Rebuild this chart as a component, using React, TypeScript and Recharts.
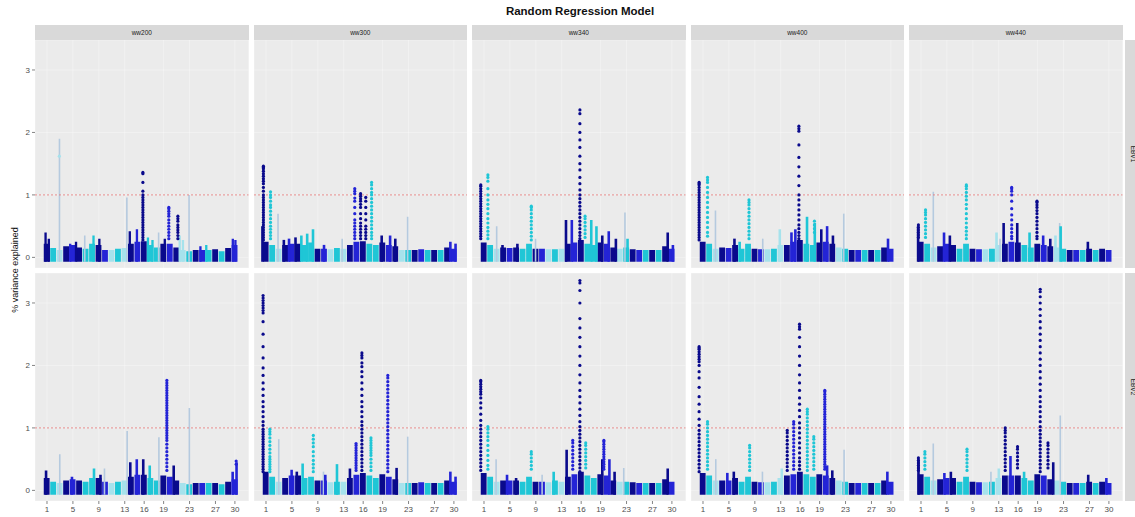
import React from 'react';
import { BarChart, Bar, Cell, ScatterChart, Scatter, XAxis, YAxis, ReferenceLine, CartesianGrid } from 'recharts';

// facet labels
const colLabels = ['ww200', 'ww300', 'ww340', 'ww400', 'ww440'];
const rowLabels = ['EBV1', 'EBV2'];
const chromTicks = [1, 5, 9, 13, 16, 19, 23, 27, 30];
const yTicks = [0, 1, 2, 3];

// base mass of points per chromosome (1..30)
const base11 = [0.22, 0.15, 0.12, 0.18, 0.2, 0.16, 0.14, 0.22, 0.2, 0.12, 0.12, 0.14, 0.15, 0.22, 0.25, 0.26, 0.2, 0.16, 0.22, 0.22, 0.16, 0.12, 0.1, 0.12, 0.12, 0.12, 0.13, 0.1, 0.15, 0.2];
const base12 = [0.25, 0.2, 0.14, 0.2, 0.22, 0.22, 0.2, 0.24, 0.14, 0.14, 0.13, 0.15, 0.14, 0.2, 0.25, 0.26, 0.22, 0.2, 0.24, 0.2, 0.18, 0.12, 0.12, 0.12, 0.13, 0.12, 0.12, 0.12, 0.16, 0.14];
const base13 = [0.24, 0.2, 0.14, 0.16, 0.15, 0.16, 0.14, 0.22, 0.14, 0.14, 0.13, 0.13, 0.14, 0.22, 0.24, 0.28, 0.22, 0.2, 0.24, 0.22, 0.16, 0.14, 0.16, 0.13, 0.12, 0.12, 0.12, 0.12, 0.18, 0.14];
const base14 = [0.25, 0.22, 0.14, 0.16, 0.15, 0.2, 0.14, 0.22, 0.14, 0.13, 0.13, 0.14, 0.2, 0.2, 0.25, 0.28, 0.22, 0.2, 0.24, 0.25, 0.22, 0.16, 0.14, 0.12, 0.12, 0.12, 0.12, 0.12, 0.16, 0.14];
const base15 = [0.25, 0.22, 0.16, 0.18, 0.22, 0.2, 0.14, 0.22, 0.14, 0.13, 0.13, 0.14, 0.2, 0.22, 0.25, 0.24, 0.2, 0.16, 0.22, 0.2, 0.18, 0.16, 0.14, 0.12, 0.12, 0.12, 0.14, 0.12, 0.14, 0.12];
const base21 = [0.2, 0.14, 0.12, 0.16, 0.18, 0.16, 0.14, 0.2, 0.2, 0.14, 0.12, 0.14, 0.16, 0.22, 0.25, 0.25, 0.2, 0.16, 0.24, 0.22, 0.16, 0.12, 0.1, 0.12, 0.12, 0.12, 0.12, 0.1, 0.14, 0.18];
const base22 = [0.3, 0.22, 0.14, 0.2, 0.24, 0.24, 0.2, 0.22, 0.16, 0.16, 0.13, 0.14, 0.14, 0.2, 0.25, 0.28, 0.24, 0.2, 0.26, 0.22, 0.18, 0.12, 0.12, 0.12, 0.13, 0.12, 0.12, 0.12, 0.16, 0.14];
const base23 = [0.28, 0.22, 0.14, 0.16, 0.16, 0.16, 0.14, 0.22, 0.14, 0.14, 0.13, 0.16, 0.14, 0.22, 0.26, 0.3, 0.24, 0.2, 0.26, 0.24, 0.16, 0.14, 0.14, 0.13, 0.12, 0.12, 0.12, 0.12, 0.18, 0.14];
const base24 = [0.28, 0.24, 0.16, 0.16, 0.16, 0.2, 0.14, 0.22, 0.14, 0.13, 0.13, 0.14, 0.2, 0.24, 0.26, 0.3, 0.26, 0.22, 0.26, 0.24, 0.2, 0.16, 0.14, 0.12, 0.12, 0.12, 0.12, 0.12, 0.16, 0.14];
const base25 = [0.26, 0.22, 0.16, 0.18, 0.2, 0.2, 0.14, 0.22, 0.14, 0.13, 0.13, 0.14, 0.2, 0.24, 0.24, 0.24, 0.2, 0.16, 0.26, 0.24, 0.18, 0.16, 0.14, 0.12, 0.12, 0.12, 0.14, 0.12, 0.14, 0.12];

// narrow dense peaks [position, top]
const bumps11 = [[0.8, 0.4], [1.3, 0.3], [4.6, 0.22], [5.5, 0.25], [8.2, 0.35], [9.1, 0.3], [13.8, 0.42], [14.9, 0.45], [16.6, 0.32], [17.3, 0.28], [19.2, 0.3], [21.5, 0.35], [22.0, 0.28], [24.7, 0.18], [25.6, 0.2], [29.7, 0.3], [30.1, 0.28]];
const bumps12 = [[0.5, 0.5], [3.8, 0.28], [4.6, 0.3], [5.6, 0.32], [6.5, 0.35], [7.4, 0.38], [8.3, 0.45], [10.0, 0.2], [18.9, 0.35], [20.2, 0.35], [21.0, 0.3], [29.5, 0.25], [30.3, 0.22]];
const bumps13 = [[3.9, 0.2], [6.2, 0.22], [13.7, 0.6], [14.6, 0.6], [17.6, 0.6], [18.4, 0.5], [19.3, 0.35], [20.3, 0.42], [21.4, 0.3], [23.2, 0.3], [29.4, 0.4], [30.2, 0.2]];
const bumps14 = [[5.8, 0.3], [6.6, 0.25], [12.8, 0.45], [14.6, 0.4], [15.2, 0.45], [17.0, 0.65], [18.2, 0.55], [19.2, 0.45], [20.1, 0.5], [21.0, 0.35], [29.5, 0.3]];
const bumps15 = [[0.6, 0.5], [4.6, 0.4], [5.5, 0.35], [12.7, 0.4], [13.8, 0.55], [15.9, 0.55], [17.8, 0.4], [19.9, 0.35], [21.0, 0.3], [21.8, 0.35], [22.6, 0.5], [26.8, 0.25]];
const bumps21 = [[0.8, 0.32], [4.8, 0.22], [8.2, 0.35], [9.2, 0.25], [13.8, 0.45], [14.8, 0.5], [15.8, 0.5], [16.8, 0.4], [20.5, 0.4], [29.6, 0.3], [30.2, 0.45]];
const bumps22 = [[5.0, 0.33], [5.8, 0.3], [6.7, 0.43], [10.2, 0.25], [12.0, 0.42], [14.0, 0.35], [21.2, 0.36], [29.5, 0.3], [30.3, 0.22]];
const bumps23 = [[4.6, 0.25], [6.0, 0.2], [11.8, 0.3], [13.8, 0.65], [19.3, 0.5], [20.4, 0.5], [21.2, 0.3], [29.4, 0.35]];
const bumps24 = [[4.8, 0.28], [5.8, 0.3], [13.2, 0.35], [20.2, 0.4], [21.0, 0.32], [29.5, 0.3]];
const bumps25 = [[0.6, 0.5], [4.6, 0.28], [5.6, 0.3], [13.0, 0.35], [14.8, 0.55], [16.9, 0.3], [21.4, 0.45], [26.8, 0.25], [29.6, 0.2]];

// pale tall strokes [position, top]
const faint11 = [[2.9, 1.9], [6.8, 0.35], [13.3, 0.96], [18.2, 0.4], [22.9, 1.0]];
const faint12 = [[2.9, 0.7], [12.8, 0.3], [22.9, 0.65]];
const faint13 = [[2.9, 0.5], [8.9, 0.3], [22.7, 0.72]];
const faint14 = [[2.9, 0.75], [10.2, 0.3], [22.7, 0.7]];
const faint15 = [[2.9, 1.05], [13.2, 0.3], [22.4, 0.55]];
const faint21 = [[2.9, 0.58], [9.8, 0.35], [13.3, 0.95], [18.2, 0.85], [22.9, 1.32]];
const faint22 = [[2.9, 0.82], [9.8, 0.3], [22.8, 0.86]];
const faint23 = [[2.9, 0.5], [10.0, 0.25], [22.6, 0.36]];
const faint24 = [[2.9, 0.5], [10.1, 0.3], [22.7, 0.65]];
const faint25 = [[2.9, 0.75], [11.8, 0.3], [22.5, 1.2]];

// columns of single SNP points [position, values]
const cols11 = [
  [15.8, [1.36, 1.34, 1.2, 1.06, 1.0, 0.96, 0.92, 0.88, 0.84, 0.8, 0.76, 0.72, 0.68, 0.64, 0.6, 0.56, 0.52, 0.48, 0.44, 0.4, 0.36, 0.32, 0.28]],
  [19.8, [0.8, 0.78, 0.74, 0.7, 0.66, 0.6, 0.55, 0.5, 0.45, 0.4, 0.35, 0.3]],
  [21.2, [0.66, 0.62, 0.58, 0.52, 0.48, 0.44, 0.4, 0.35, 0.3]],
  [2.9, [1.62]],
];
const cols12 = [
  [0.6, [1.46, 1.44, 1.42, 1.38, 1.34, 1.3, 1.26, 1.22, 1.18, 1.12, 1.06, 1.0, 0.96, 0.92, 0.88, 0.84, 0.8, 0.76, 0.72, 0.68, 0.64, 0.6, 0.56, 0.52, 0.48, 0.44, 0.4, 0.36, 0.32, 0.28]],
  [1.7, [1.05, 1.0, 0.96, 0.9, 0.84, 0.8, 0.74, 0.68, 0.62, 0.56, 0.5, 0.45, 0.4, 0.35, 0.3]],
  [14.7, [1.1, 1.06, 1.02, 0.95, 0.9, 0.8, 0.7, 0.6, 0.55, 0.5, 0.45, 0.4, 0.35, 0.3]],
  [15.6, [1.02, 0.98, 0.94, 0.9, 0.85, 0.8, 0.7, 0.62, 0.55, 0.5, 0.45, 0.4, 0.35, 0.3]],
  [16.4, [0.96, 0.9, 0.8, 0.7, 0.6, 0.5, 0.45, 0.4, 0.35, 0.3]],
  [17.3, [1.2, 1.16, 1.1, 1.04, 1.0, 0.94, 0.88, 0.82, 0.76, 0.7, 0.64, 0.58, 0.52, 0.46, 0.4, 0.35, 0.3]],
];
const cols13 = [
  [0.5, [1.16, 1.14, 1.1, 1.06, 1.02, 0.98, 0.94, 0.9, 0.86, 0.82, 0.78, 0.74, 0.7, 0.66, 0.62, 0.58, 0.54, 0.5, 0.46, 0.42, 0.38, 0.34, 0.3]],
  [1.6, [1.32, 1.28, 1.22, 1.1, 1.0, 0.92, 0.85, 0.78, 0.7, 0.62, 0.55, 0.48, 0.42, 0.36, 0.3]],
  [8.3, [0.82, 0.8, 0.76, 0.7, 0.64, 0.58, 0.52, 0.46, 0.4, 0.34, 0.28]],
  [15.8, [2.36, 2.3, 2.14, 2.0, 1.88, 1.76, 1.62, 1.5, 1.4, 1.28, 1.18, 1.08, 1.0, 0.94, 0.88, 0.82, 0.76, 0.7, 0.64, 0.58, 0.52, 0.46, 0.4, 0.35, 0.3]],
  [16.6, [0.66, 0.62, 0.56, 0.5, 0.44, 0.38, 0.32]],
];
const cols14 = [
  [0.4, [1.2, 1.18, 1.16, 1.12, 1.08, 1.04, 1.0, 0.96, 0.92, 0.88, 0.84, 0.8, 0.76, 0.72, 0.68, 0.64, 0.6, 0.56, 0.52, 0.48, 0.44, 0.4, 0.36, 0.32, 0.28]],
  [1.7, [1.28, 1.24, 1.2, 1.12, 1.04, 0.96, 0.88, 0.8, 0.72, 0.64, 0.56, 0.48, 0.4, 0.34]],
  [8.1, [0.92, 0.88, 0.84, 0.78, 0.72, 0.66, 0.6, 0.54, 0.48, 0.42, 0.36, 0.3]],
  [15.8, [2.1, 2.06, 2.02, 1.8, 1.6, 1.45, 1.3, 1.15, 1.0, 0.92, 0.84, 0.76, 0.68, 0.6, 0.52, 0.46, 0.4, 0.35, 0.3]],
  [18.2, [0.58, 0.52, 0.46, 0.4]],
];
const cols15 = [
  [0.6, [0.52, 0.48, 0.44, 0.4, 0.36, 0.32]],
  [1.7, [0.76, 0.72, 0.68, 0.62, 0.56, 0.5, 0.44, 0.38, 0.32]],
  [8.0, [1.16, 1.14, 1.1, 1.04, 0.98, 0.92, 0.85, 0.78, 0.7, 0.62, 0.55, 0.48, 0.42, 0.36, 0.3]],
  [15.0, [1.12, 1.1, 1.06, 1.0, 0.9, 0.78, 0.68, 0.6, 0.52, 0.46, 0.4, 0.34, 0.3]],
  [18.9, [0.9, 0.88, 0.84, 0.8, 0.75, 0.7, 0.64, 0.58, 0.52, 0.46, 0.4, 0.34, 0.3]],
];
const cols21 = [
  [19.5, [1.76, 1.72, 1.68, 1.64, 1.6, 1.56, 1.52, 1.48, 1.44, 1.4, 1.36, 1.32, 1.28, 1.24, 1.2, 1.16, 1.12, 1.08, 1.04, 1.0, 0.96, 0.92, 0.88, 0.84, 0.8, 0.74, 0.68, 0.62, 0.56, 0.5, 0.44, 0.38, 0.32]],
  [30.2, [0.47, 0.42]],
];
const cols22 = [
  [0.55, [3.12, 3.08, 3.04, 3.0, 2.96, 2.92, 2.88, 2.84, 2.7, 2.5, 2.3, 2.12, 1.96, 1.84, 1.72, 1.62, 1.52, 1.42, 1.34, 1.26, 1.18, 1.1, 1.04, 0.98, 0.94, 0.9, 0.86, 0.82, 0.78, 0.74, 0.7, 0.66, 0.62, 0.58, 0.54, 0.5, 0.46, 0.42, 0.38, 0.34, 0.3]],
  [1.6, [0.98, 0.94, 0.9, 0.84, 0.78, 0.72, 0.66, 0.6, 0.54, 0.5, 0.46, 0.42, 0.38, 0.34, 0.3]],
  [8.3, [0.88, 0.82, 0.76, 0.7, 0.62, 0.55, 0.48, 0.42, 0.36, 0.3]],
  [14.9, [0.75, 0.72, 0.68, 0.64, 0.6, 0.56, 0.52, 0.48, 0.44, 0.4, 0.36, 0.32]],
  [15.8, [2.2, 2.16, 2.12, 2.04, 1.98, 1.9, 1.82, 1.72, 1.62, 1.52, 1.42, 1.34, 1.26, 1.18, 1.1, 1.04, 0.98, 0.92, 0.86, 0.8, 0.74, 0.68, 0.62, 0.56, 0.5, 0.44, 0.38, 0.32]],
  [17.2, [0.84, 0.8, 0.76, 0.72, 0.68, 0.64, 0.6, 0.56, 0.5, 0.44, 0.38, 0.32]],
  [19.8, [1.84, 1.8, 1.74, 1.68, 1.62, 1.56, 1.5, 1.44, 1.38, 1.32, 1.26, 1.2, 1.14, 1.08, 1.02, 0.96, 0.9, 0.84, 0.78, 0.72, 0.66, 0.6, 0.54, 0.48, 0.42, 0.36, 0.3]],
];
const cols23 = [
  [0.5, [1.76, 1.74, 1.7, 1.66, 1.62, 1.58, 1.54, 1.48, 1.4, 1.32, 1.22, 1.12, 1.04, 0.98, 0.92, 0.86, 0.8, 0.74, 0.68, 0.62, 0.56, 0.5, 0.44, 0.38, 0.32]],
  [1.6, [1.02, 0.98, 0.92, 0.86, 0.8, 0.72, 0.64, 0.56, 0.48, 0.4, 0.34]],
  [8.3, [0.62, 0.58, 0.52, 0.46, 0.4, 0.34]],
  [14.7, [0.8, 0.76, 0.7, 0.64, 0.58, 0.52, 0.46, 0.4, 0.34]],
  [15.8, [3.36, 3.32, 3.2, 3.0, 2.75, 2.6, 2.45, 2.3, 2.15, 2.0, 1.85, 1.72, 1.6, 1.5, 1.4, 1.3, 1.2, 1.1, 1.02, 0.96, 0.9, 0.84, 0.78, 0.72, 0.66, 0.6, 0.54, 0.48, 0.42, 0.36, 0.3]],
  [16.7, [0.76, 0.72, 0.66, 0.6, 0.54, 0.48, 0.42, 0.36]],
  [19.5, [0.8, 0.78, 0.74, 0.7, 0.66, 0.62, 0.58, 0.54, 0.5, 0.46, 0.42, 0.38, 0.34]],
];
const cols24 = [
  [0.4, [2.3, 2.28, 2.26, 2.22, 2.18, 2.14, 2.1, 2.06, 2.0, 1.9, 1.8, 1.65, 1.5, 1.38, 1.26, 1.14, 1.04, 0.96, 0.9, 0.84, 0.78, 0.72, 0.66, 0.6, 0.54, 0.48, 0.42, 0.36, 0.3]],
  [1.7, [1.1, 1.06, 1.0, 0.94, 0.88, 0.82, 0.76, 0.7, 0.64, 0.58, 0.52, 0.46, 0.4, 0.34]],
  [8.2, [0.72, 0.68, 0.62, 0.56, 0.5, 0.44, 0.38, 0.32]],
  [14.0, [0.96, 0.92, 0.86, 0.8, 0.74, 0.68, 0.62, 0.56, 0.5, 0.44, 0.38, 0.32]],
  [15.0, [1.1, 1.06, 1.0, 0.94, 0.88, 0.82, 0.76, 0.7, 0.64, 0.58, 0.52, 0.46, 0.4, 0.34]],
  [15.9, [2.66, 2.62, 2.58, 2.45, 2.3, 2.15, 2.0, 1.85, 1.72, 1.6, 1.48, 1.38, 1.28, 1.18, 1.08, 1.0, 0.92, 0.84, 0.76, 0.68, 0.6, 0.52, 0.46, 0.4, 0.34]],
  [17.1, [1.3, 1.26, 1.22, 1.16, 1.1, 1.04, 0.98, 0.92, 0.86, 0.8, 0.74, 0.68, 0.62, 0.56, 0.5, 0.44, 0.38, 0.32]],
  [18.1, [0.86, 0.82, 0.76, 0.7, 0.64, 0.58, 0.52, 0.46, 0.4, 0.34]],
  [19.8, [1.6, 1.58, 1.54, 1.5, 1.46, 1.42, 1.38, 1.34, 1.3, 1.26, 1.22, 1.18, 1.14, 1.1, 1.06, 1.02, 0.98, 0.94, 0.9, 0.86, 0.82, 0.78, 0.74, 0.7, 0.66, 0.62, 0.58, 0.54, 0.5, 0.46, 0.42, 0.38, 0.34]],
];
const cols25 = [
  [0.6, [0.52, 0.48, 0.44, 0.4, 0.36, 0.32]],
  [1.6, [0.62, 0.58, 0.52, 0.46, 0.4, 0.34]],
  [8.1, [0.66, 0.62, 0.56, 0.5, 0.44, 0.38, 0.32]],
  [14.0, [1.0, 0.96, 0.92, 0.86, 0.8, 0.74, 0.68, 0.62, 0.56, 0.5, 0.44, 0.38, 0.32]],
  [15.9, [0.7, 0.66, 0.6, 0.54, 0.48, 0.42, 0.36]],
  [19.4, [3.22, 3.18, 3.1, 3.0, 2.9, 2.8, 2.7, 2.6, 2.5, 2.4, 2.3, 2.2, 2.1, 2.0, 1.9, 1.8, 1.7, 1.6, 1.5, 1.42, 1.34, 1.26, 1.18, 1.1, 1.02, 0.96, 0.9, 0.84, 0.78, 0.72, 0.66, 0.6, 0.54, 0.48, 0.42, 0.36, 0.3]],
  [20.6, [0.76, 0.72, 0.66, 0.6, 0.54, 0.48, 0.42, 0.36]],
];

const N = '#0A0A8C';
const B = '#2424D6';
const T = '#1FC6D6';
const L = '#A6E2EC';
const chromColors = [N, T, L, N, B, N, T, T, N, B, L, T, L, N, B, N, T, T, N, B, N, L, T, N, B, T, N, T, N, B];
const FAINT = '#B5CADF';

const colorOf = (x: number) => chromColors[Math.min(30, Math.max(1, Math.round(x))) - 1];

const PANEL_LEFT = 35;
const PANEL_W = 213.5;
const GAP = 5;
const PANEL_H = 228;
const ROW_TOP = [40, 273];
const X_DOMAIN = [-0.852, 32.1];
const Y_DOMAIN = [-0.17, 3.48];
const FLOOR = -0.07; // points sitting at 0 spill slightly below the axis
const M = { top: 0, right: 0, bottom: 0, left: 0 };

const panels = [
  [base11, bumps11, faint11, cols11], [base12, bumps12, faint12, cols12], [base13, bumps13, faint13, cols13], [base14, bumps14, faint14, cols14], [base15, bumps15, faint15, cols15],
  [base21, bumps21, faint21, cols21], [base22, bumps22, faint22, cols22], [base23, bumps23, faint23, cols23], [base24, bumps24, faint24, cols24], [base25, bumps25, faint25, cols25],
];

const Dot = (p: any) => <circle cx={p.cx} cy={p.cy} r={1.6} fill={colorOf(p.payload.x)} />;

function BarLayer({ rows, size, fixed, grid }: any) {
  return (
    <div style={{ position: 'absolute', left: 0, top: 0 }}>
      <BarChart width={PANEL_W} height={PANEL_H} data={rows} margin={M}>
        {grid && <CartesianGrid stroke="#ffffff" strokeOpacity={0.55} strokeWidth={0.6} />}
        <XAxis type="number" dataKey="x" domain={X_DOMAIN} ticks={chromTicks} allowDataOverflow hide />
        <YAxis type="number" domain={Y_DOMAIN} ticks={yTicks} allowDataOverflow hide />
        <Bar dataKey="h" barSize={size} isAnimationActive={false}>
          {rows.map((r: any, i: number) => <Cell key={i} fill={fixed || colorOf(r.x)} />)}
        </Bar>
      </BarChart>
    </div>
  );
}

function Panel({ index }: { index: number }) {
  const row = Math.floor(index / 5);
  const col = index % 5;
  const [base, bumps, faint, cols] = panels[index] as any;
  const left = PANEL_LEFT + col * (PANEL_W + GAP);
  const top = ROW_TOP[row];
  const baseRows = base.map((h: number, i: number) => ({ x: i + 1, h: [FLOOR, h] }));
  const bumpRows = bumps.map(([x, h]: number[]) => ({ x, h: [FLOOR, h] }));
  const faintRows = faint.map(([x, h]: number[]) => ({ x, h: [FLOOR, h] }));
  const dots = cols.flatMap(([x, ys]: any) => ys.map((y: number) => ({ x, y })));
  const showY = col === 0;
  const showX = row === 1;
  const axisW = showY ? 35 : 0;
  const axisH = showX ? 20 : 0;
  return (
    <>
      <div style={{ position: 'absolute', left, top, width: PANEL_W, height: PANEL_H, background: '#EBEBEB' }}>
        <BarLayer rows={baseRows} size={6.5} grid />
        <BarLayer rows={faintRows} size={1.6} fixed={FAINT} />
        <BarLayer rows={bumpRows} size={2.6} />
      </div>
      <div style={{ position: 'absolute', left: left - axisW, top }}>
        <ScatterChart width={PANEL_W + axisW} height={PANEL_H + axisH} margin={M}>
          <XAxis type="number" dataKey="x" domain={X_DOMAIN} ticks={chromTicks} interval={0} allowDataOverflow hide={!showX}
            height={20} tickSize={3} axisLine={false} tickLine={{ stroke: '#333333', strokeWidth: 0.6 }}
            tick={{ fontSize: 8, fill: '#4D4D4D' }} />
          <YAxis type="number" dataKey="y" domain={Y_DOMAIN} ticks={yTicks} interval={0} allowDataOverflow hide={!showY}
            width={35} tickSize={3} axisLine={false} tickLine={{ stroke: '#333333', strokeWidth: 0.6 }}
            tick={{ fontSize: 8, fill: '#4D4D4D' }} />
          <Scatter data={dots} shape={Dot} isAnimationActive={false} />
          <ReferenceLine y={1} stroke="#E57373" strokeWidth={0.8} strokeDasharray="2 2" />
        </ScatterChart>
      </div>
    </>
  );
}

export default function App() {
  return (
    <div style={{ position: 'absolute', left: 0, top: 0, width: 1135, height: 517, background: '#ffffff', overflow: 'hidden', fontFamily: '"Liberation Sans", Arial, sans-serif' }}>
      <div style={{ position: 'absolute', left: 430, top: 5, width: 300, textAlign: 'center', fontSize: 11.5, fontWeight: 'bold', color: '#111' }}>
        Random Regression Model
      </div>
      {colLabels.map((lab, c) => (
        <div key={lab} style={{ position: 'absolute', left: PANEL_LEFT + c * (PANEL_W + GAP), top: 25, width: PANEL_W, height: 15, background: '#D9D9D9', fontSize: 6.5, color: '#1A1A1A', textAlign: 'center', lineHeight: '15px' }}>
          {lab}
        </div>
      ))}
      {rowLabels.map((lab, r) => (
        <div key={lab} style={{ position: 'absolute', left: 1125, top: ROW_TOP[r], width: 15, height: PANEL_H, background: '#D9D9D9' }}>
          <div style={{ position: 'absolute', left: 7.5, top: PANEL_H / 2, transform: 'translate(-50%, -50%) rotate(90deg)', fontSize: 6.5, color: '#1A1A1A', whiteSpace: 'nowrap' }}>
            {lab}
          </div>
        </div>
      ))}
      <div style={{ position: 'absolute', left: 15, top: 270, transform: 'translate(-50%, -50%) rotate(-90deg)', fontSize: 9, color: '#111', whiteSpace: 'nowrap' }}>
        % variance explained
      </div>
      {panels.map((_, i) => <Panel key={i} index={i} />)}
    </div>
  );
}
